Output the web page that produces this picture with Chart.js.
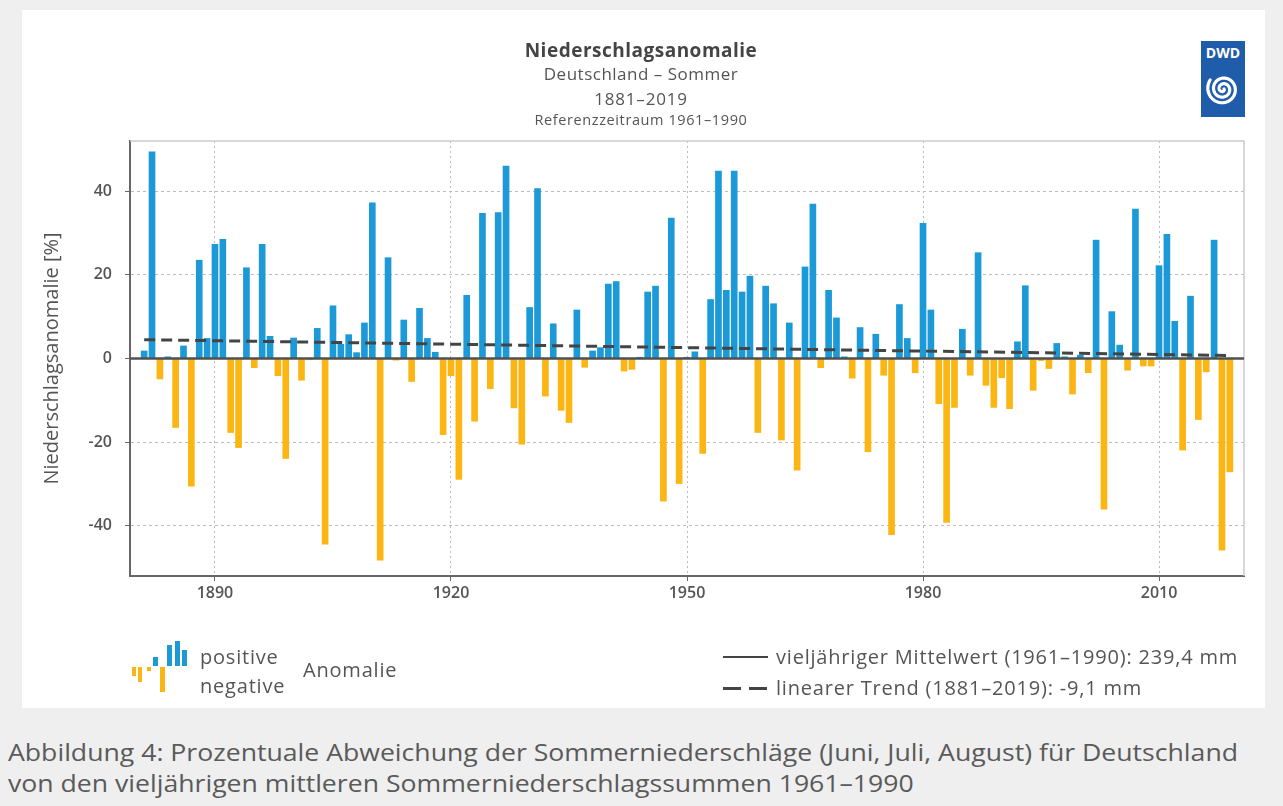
<!DOCTYPE html>
<html lang="de">
<head>
<meta charset="utf-8">
<title>Niederschlagsanomalie Deutschland – Sommer 1881–2019</title>
<script src="https://cdn.jsdelivr.net/npm/chart.js@4.4.1/dist/chart.umd.min.js"></script>
<style>
  html, body { margin: 0; padding: 0; }
  body {
    width: 1283px; height: 806px; position: relative; overflow: hidden;
    background: #efefef; color: #555;
    font-family: 'Open Sans', 'Noto Sans', sans-serif;
  }
  .card { position: absolute; left: 22px; top: 10px; width: 1243px; height: 698px; background: #fff; }
  .card canvas { position: absolute; left: 0; top: 0; }
  .txt { position: absolute; white-space: nowrap; line-height: 24px; }
  .title { left: 0; width: 1238px; text-align: center; }
  .leg { font-size: 20px; letter-spacing: 0.8px; color: #555; }
  .swatch { position: absolute; background: #444; }
  .caption { position: absolute; left: 8px; top: 736px; font-size: 24px; line-height: 31px; color: #5a5a5a; white-space: nowrap; transform-origin: 0 0; }
  .caption span { display: block; width: max-content; }
  #logo { position: absolute; left: 1179px; top: 31px; }
</style>
</head>
<body>
<div class="card">
  <canvas id="chart" width="1243" height="698"></canvas>

  <div class="txt title" style="top:28px;font-size:19px;letter-spacing:0.5px;font-weight:bold;color:#444">Niederschlagsanomalie</div>
  <div class="txt title" style="top:52px;font-size:17px;letter-spacing:0.5px">Deutschland – Sommer</div>
  <div class="txt title" style="top:77px;font-size:17px;letter-spacing:0.8px">1881–2019</div>
  <div class="txt title" style="top:98px;font-size:14.5px;letter-spacing:0.6px">Referenzzeitraum 1961–1990</div>

  <svg id="logo" width="44" height="76" viewBox="0 0 44 76">
    <rect x="0" y="0" width="44" height="76" fill="#1f5dab"/>
    <text x="22" y="17" text-anchor="middle" fill="#fff" font-family="'Open Sans', sans-serif" font-weight="bold" font-size="14">DWD</text>
    <path id="spiral" fill="none" stroke="#fff" stroke-width="3.2" stroke-linecap="round"/>
  </svg>

  <svg style="position:absolute;left:108px;top:630px" width="62" height="55">
    <g fill="#fbb614">
      <rect x="2" y="27" width="4" height="9"/>
      <rect x="8" y="27" width="4" height="15"/>
      <rect x="17" y="27" width="4" height="4"/>
      <rect x="30" y="27" width="5" height="25"/>
    </g>
    <g fill="#1b9ad7">
      <rect x="23" y="17" width="5" height="9"/>
      <rect x="37" y="5" width="5" height="21"/>
      <rect x="45" y="1" width="5" height="25"/>
      <rect x="52" y="10" width="5" height="16"/>
    </g>
  </svg>
  <div class="txt leg" style="left:178px;top:635px">positive</div>
  <div class="txt leg" style="left:178px;top:664px">negative</div>
  <div class="txt leg" style="left:281px;top:648px">Anomalie</div>

  <div class="swatch" style="left:701px;top:646px;width:45px;height:2px"></div>
  <div class="txt leg" style="left:754px;top:635px">vieljähriger Mittelwert (1961–1990): 239,4 mm</div>
  <div class="swatch" style="left:701px;top:677px;width:18px;height:3px"></div>
  <div class="swatch" style="left:727px;top:677px;width:18px;height:3px"></div>
  <div class="txt leg" style="left:754px;top:666px">linearer Trend (1881–2019): -9,1 mm</div>
</div>

<div class="caption" id="caption">
  <span id="capLine1">Abbildung 4: Prozentuale Abweichung der Sommerniederschläge (Juni, Juli, August) für Deutschland</span>
  <span>von den vieljährigen mittleren Sommerniederschlagssummen 1961–1990</span>
</div>

<script>
// Summer precipitation anomaly in % of the 1961-1990 mean, one value per year
const firstYear = 1881;
const anomalies = [
  1.8, 49.4, -4.9, 0.4, -16.5, 3.0, -30.5, 23.5, 4.8, 27.3,        // 1881-1890
  28.5, -17.7, -21.3, 21.7, -2.2, 27.3, 5.3, -4.1, -23.9, 4.9,     // 1891-1900
  -5.2, -0.3, 7.2, -44.4, 12.6, 3.4, 5.7, 1.4, 8.5, 37.2,          // 1901-1910
  -48.2, 24.1, -0.4, 9.2, -5.5, 12.0, 4.8, 1.5, -18.2, -4.1,       // 1911-1920
  -28.9, 15.1, -15.0, 34.7, -7.2, 34.9, 46.0, -11.8, -20.5, 12.2,  // 1921-1930
  40.6, -9.0, 8.3, -12.4, -15.3, 11.6, -2.1, 1.8, 2.6, 17.8,       // 1931-1940
  18.4, -3.0, -2.6, 0.3, 15.9, 17.3, -34.1, 33.6, -29.9, 0.3,      // 1941-1950
  1.6, -22.7, 14.1, 44.8, 16.3, 44.8, 15.9, 19.7, -17.7, 17.3,     // 1951-1960
  13.1, -19.5, 8.5, -26.7, 21.9, 36.9, -2.2, 16.3, 9.7, 0.4,       // 1961-1970
  -4.7, 7.4, -22.3, 5.8, -4.0, -42.1, 12.9, 4.8, -3.4, 32.3,       // 1971-1980
  11.6, -10.8, -39.2, -11.7, 7.0, -4.0, 25.3, -6.4, -11.7, -4.6,   // 1981-1990
  -12.0, 4.0, 17.4, -7.6, -0.5, -2.4, 3.6, 0.4, -8.5, 0.8,         // 1991-2000
  -3.4, 28.3, -36.0, 11.2, 3.2, -2.8, 35.7, -1.8, -1.8, 22.2,      // 2001-2010
  29.7, 8.9, -21.9, 14.9, -14.6, -3.2, 28.3, -45.8, -27.1          // 2011-2019
];
const years = anomalies.map((_, i) => firstYear + i);

// linear trend, start and end
const trendYears = [1881, 2019];
const trendValues = [4.5, 0.7];

const xTicks = [1890, 1920, 1950, 1980, 2010];
const yTicks = [-40, -20, 0, 20, 40];

const BLUE = '#1b9ad7';
const ORANGE = '#fbb614';
const AXIS = '#666';
const GRID = '#bcbcbc';
const tickFont = { family: "'Open Sans', 'Noto Sans', sans-serif", size: 16, weight: '600' };

// light frame on top/right, solid zero line over the bars
const framePlugin = {
  id: 'frame',
  beforeDatasetsDraw(chart) {
    const { ctx, chartArea: a } = chart;
    ctx.save();
    ctx.strokeStyle = '#cccccc';
    ctx.lineWidth = 1.5;
    ctx.beginPath();
    ctx.moveTo(a.left, a.top);
    ctx.lineTo(a.right, a.top);
    ctx.lineTo(a.right, a.bottom);
    ctx.stroke();
    ctx.restore();
  },
  afterDatasetDraw(chart, args) {
    if (args.meta.type !== 'bar') return;
    const { ctx, chartArea: a, scales } = chart;
    const y0 = scales.y.getPixelForValue(0);
    ctx.save();
    ctx.strokeStyle = '#505050';
    ctx.lineWidth = 2.5;
    ctx.beginPath();
    ctx.moveTo(a.left, y0);
    ctx.lineTo(a.right, y0);
    ctx.stroke();
    ctx.restore();
  }
};

new Chart(document.getElementById('chart').getContext('2d'), {
  data: {
    datasets: [
      {
        type: 'line',
        label: 'linearer Trend',
        data: trendYears.map((x, i) => ({ x, y: trendValues[i] })),
        borderColor: '#444',
        borderWidth: 3,
        borderDash: [11, 6],
        pointRadius: 0,
        order: 0
      },
      {
        type: 'bar',
        label: 'Anomalie',
        data: years.map((x, i) => ({ x, y: anomalies[i] })),
        backgroundColor: c => (c.raw && c.raw.y < 0 ? ORANGE : BLUE),
        barThickness: 6,
        order: 1
      }
    ]
  },
  options: {
    responsive: false,
    animation: false,
    layout: { padding: { left: 18, right: 21, top: 131, bottom: 92 } },
    plugins: {
      legend: { display: false },
      tooltip: { enabled: false }
    },
    scales: {
      x: {
        type: 'linear',
        min: 1879.2,
        max: 2020.8,
        offset: false,
        afterBuildTicks: s => { s.ticks = xTicks.map(v => ({ value: v })); },
        afterFit: s => { s.height = 40; },
        ticks: { font: tickFont, color: '#555', padding: 3, autoSkip: false, maxRotation: 0, callback: v => String(v) },
        grid: { offset: false, color: GRID, lineWidth: 1, tickColor: AXIS, tickLength: 5 },
        border: { color: AXIS, width: 2, dash: [2, 3] }
      },
      y: {
        min: -52,
        max: 52,
        afterBuildTicks: s => { s.ticks = yTicks.map(v => ({ value: v })); },
        afterFit: s => { s.width = 90; },
        ticks: { font: tickFont, color: '#555', padding: 13 },
        grid: { color: GRID, lineWidth: 1, tickColor: AXIS, tickLength: 5 },
        border: { color: AXIS, width: 2, dash: [3, 3] },
        title: {
          display: true,
          text: 'Niederschlagsanomalie [%]',
          color: '#555',
          font: { family: "'Open Sans', 'Noto Sans', sans-serif", size: 20 },
          padding: 0
        }
      }
    }
  },
  plugins: [framePlugin]
});

// DWD logo spiral
(function () {
  const cx = 22, cy = 48, pts = [];
  for (let t = 0; t <= 5.2 * Math.PI; t += 0.08) {
    const r = 1 + t * 0.9;
    pts.push((cx + r * Math.cos(t)).toFixed(2) + ',' + (cy + r * Math.sin(t)).toFixed(2));
  }
  document.getElementById('spiral').setAttribute('d', 'M' + pts.join(' L'));
})();

// squeeze the caption to the width of the reference text
(function () {
  const line = document.getElementById('capLine1');
  const w = line.getBoundingClientRect().width;
  if (w > 0) document.getElementById('caption').style.transform = 'scaleX(' + (1230 / w) + ')';
})();
</script>
</body>
</html>
